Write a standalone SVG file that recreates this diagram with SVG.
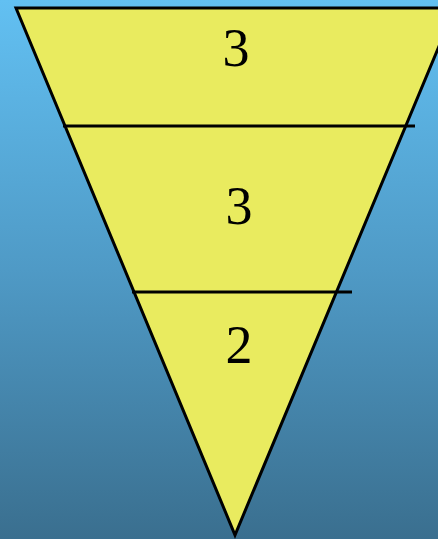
<svg xmlns="http://www.w3.org/2000/svg" width="438" height="539" viewBox="0 0 438 539">
  <defs>
    <linearGradient id="bg" x1="0" y1="0" x2="0" y2="1">
      <stop offset="0" stop-color="#62c0f2"/>
      <stop offset="0.5" stop-color="#4f9ac6"/>
      <stop offset="1" stop-color="#3a6f8f"/>
    </linearGradient>
    <style>
      .tri { fill: #e9eb5f; stroke: #000; stroke-width: 3; stroke-linejoin: miter; }
      .sep { stroke: #000; stroke-width: 3; fill: none; }
      .num { font-family: "Liberation Serif", "Times New Roman", serif; font-size: 54px; fill: #000; text-anchor: middle; }
    </style>
  </defs>
  <rect x="0" y="0" width="438" height="539" fill="url(#bg)"/>
  <g id="funnel">
    <polygon class="tri" points="16,8 455,8 235,535"/>
  </g>
  <g id="connectors">
    <line class="sep" x1="63" y1="126" x2="415" y2="126"/>
    <line class="sep" x1="132" y1="292" x2="352" y2="292"/>
  </g>
  <g id="level1"><text class="num" x="236" y="66">3</text></g>
  <g id="level2"><text class="num" x="239" y="224">3</text></g>
  <g id="level3"><text class="num" x="239" y="363">2</text></g>
</svg>
